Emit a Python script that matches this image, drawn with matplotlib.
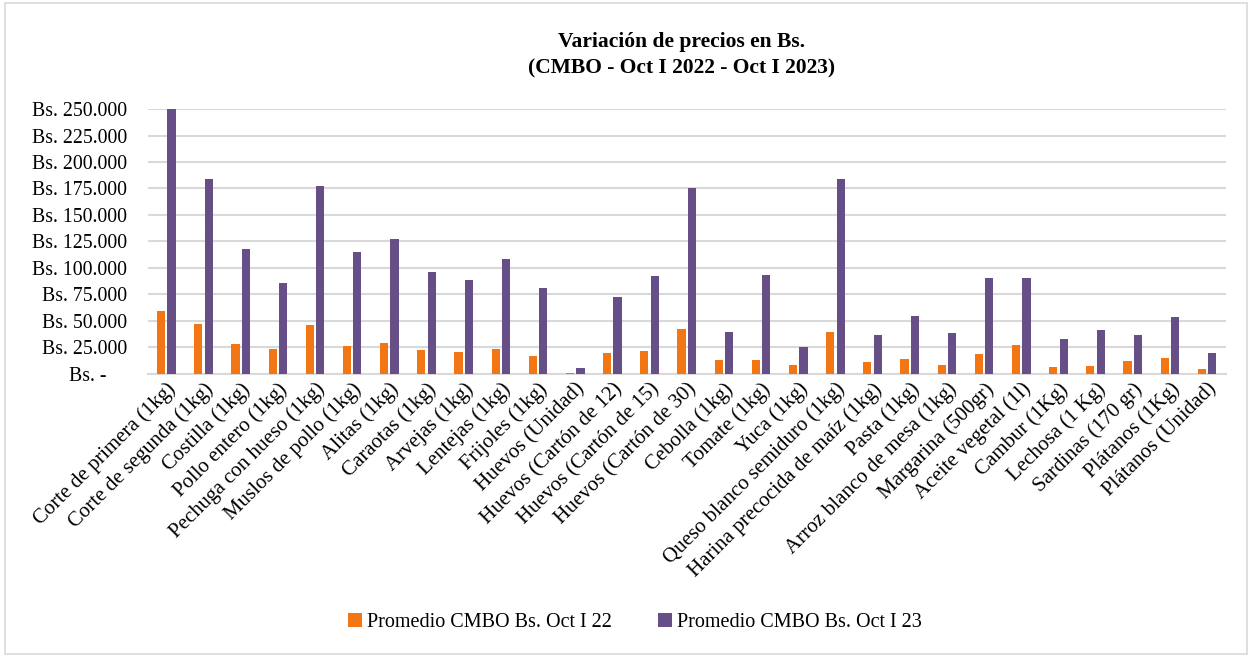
import numpy as np
import matplotlib.pyplot as plt
from matplotlib.patches import Rectangle
from matplotlib.ticker import FuncFormatter

plt.rcParams['font.family'] = ['Liberation Serif', 'DejaVu Serif']

productos = [
    'Corte de primera (1kg)', 'Corte de segunda (1kg)', 'Costilla (1kg)',
    'Pollo entero (1kg)', 'Pechuga con hueso (1kg)', 'Muslos de pollo (1kg)',
    'Alitas (1kg)', 'Caraotas (1kg)', 'Arvejas (1kg)', 'Lentejas (1kg)',
    'Frijoles (1kg)', 'Huevos (Unidad)', 'Huevos (Cartón de 12)',
    'Huevos (Cartón de 15)', 'Huevos (Cartón de 30)', 'Cebolla (1kg)',
    'Tomate (1kg)', 'Yuca (1kg)', 'Queso blanco semiduro (1kg)',
    'Harina precocida de maíz (1kg)', 'Pasta (1kg)', 'Arroz blanco de mesa (1kg)',
    'Margarina (500gr)', 'Aceite vegetal (1l)', 'Cambur (1Kg)', 'Lechosa (1 Kg)',
    'Sardinas (170 gr)', 'Plátanos (1Kg)', 'Plátanos (Unidad)',
]
oct_22 = [59700, 47400, 27950, 23240, 46480, 26700, 29200, 22300, 20700, 23900,
          17000, 900, 19800, 22000, 42700, 13500, 13200, 8500, 39600, 11300,
          14450, 8200, 18800, 27300, 6300, 7850, 11900, 14750, 4100]
oct_23 = [250000, 184400, 117800, 86060, 177100, 114950, 127500, 95800, 88900, 108400,
          81300, 5650, 72900, 92650, 175900, 39900, 93600, 25750, 183700, 36400,
          55000, 38600, 90800, 90100, 32700, 41800, 36750, 54000, 19200]

naranja = '#F27613'
morado = '#664F86'

fig = plt.figure(figsize=(12.52, 6.57), dpi=100)
ax = fig.add_axes([0.118, 0.431, 0.861, 0.403])

x = np.arange(len(productos))
w = 0.22
ax.bar(x - 0.14, oct_22, w, color=naranja, label='Promedio CMBO Bs. Oct I 22', zorder=3)
ax.bar(x + 0.14, oct_23, w, color=morado, label='Promedio CMBO Bs. Oct I 23', zorder=3)

ax.set_xlim(-0.5, len(productos) - 0.5)
ax.set_ylim(0, 250000)
ax.set_yticks(np.arange(0, 250001, 25000))

def fmt(v, pos):
    if v == 0:
        return 'Bs. -    '
    return 'Bs. ' + f'{int(v):,}'.replace(',', '.')

ax.yaxis.set_major_formatter(FuncFormatter(fmt))
ax.grid(axis='y', color='#D9D9D9', linewidth=1.5, zorder=0)
for s in ['top', 'right', 'left']:
    ax.spines[s].set_visible(False)
ax.spines['bottom'].set_color('#D9D9D9')
ax.spines['bottom'].set_linewidth(1.5)
ax.tick_params(axis='both', length=0, colors='#000000')
ax.tick_params(axis='y', pad=15, labelsize=14.3)
ax.tick_params(axis='x', pad=4, labelsize=15)
ax.set_xticks(x)
ax.set_xticklabels(productos, rotation=45, ha='right', rotation_mode='anchor')

fig.suptitle('Variación de precios en Bs.\n(CMBO - Oct I 2022 - Oct I 2023)',
             x=0.544, y=0.952, fontsize=15.5, fontweight='bold', linespacing=1.45)

fig.legend(loc='center', bbox_to_anchor=(0.507, 0.052), ncol=2, frameon=False,
           fontsize=14.5, handlelength=0.7, handleheight=0.7, handletextpad=0.25,
           columnspacing=2.3)

fig.patches.append(Rectangle((0.004, 0.004), 0.992, 0.992, transform=fig.transFigure,
                             fill=False, edgecolor='#D9D9D9', linewidth=1.2))

fig.savefig('out.png', dpi=100)
